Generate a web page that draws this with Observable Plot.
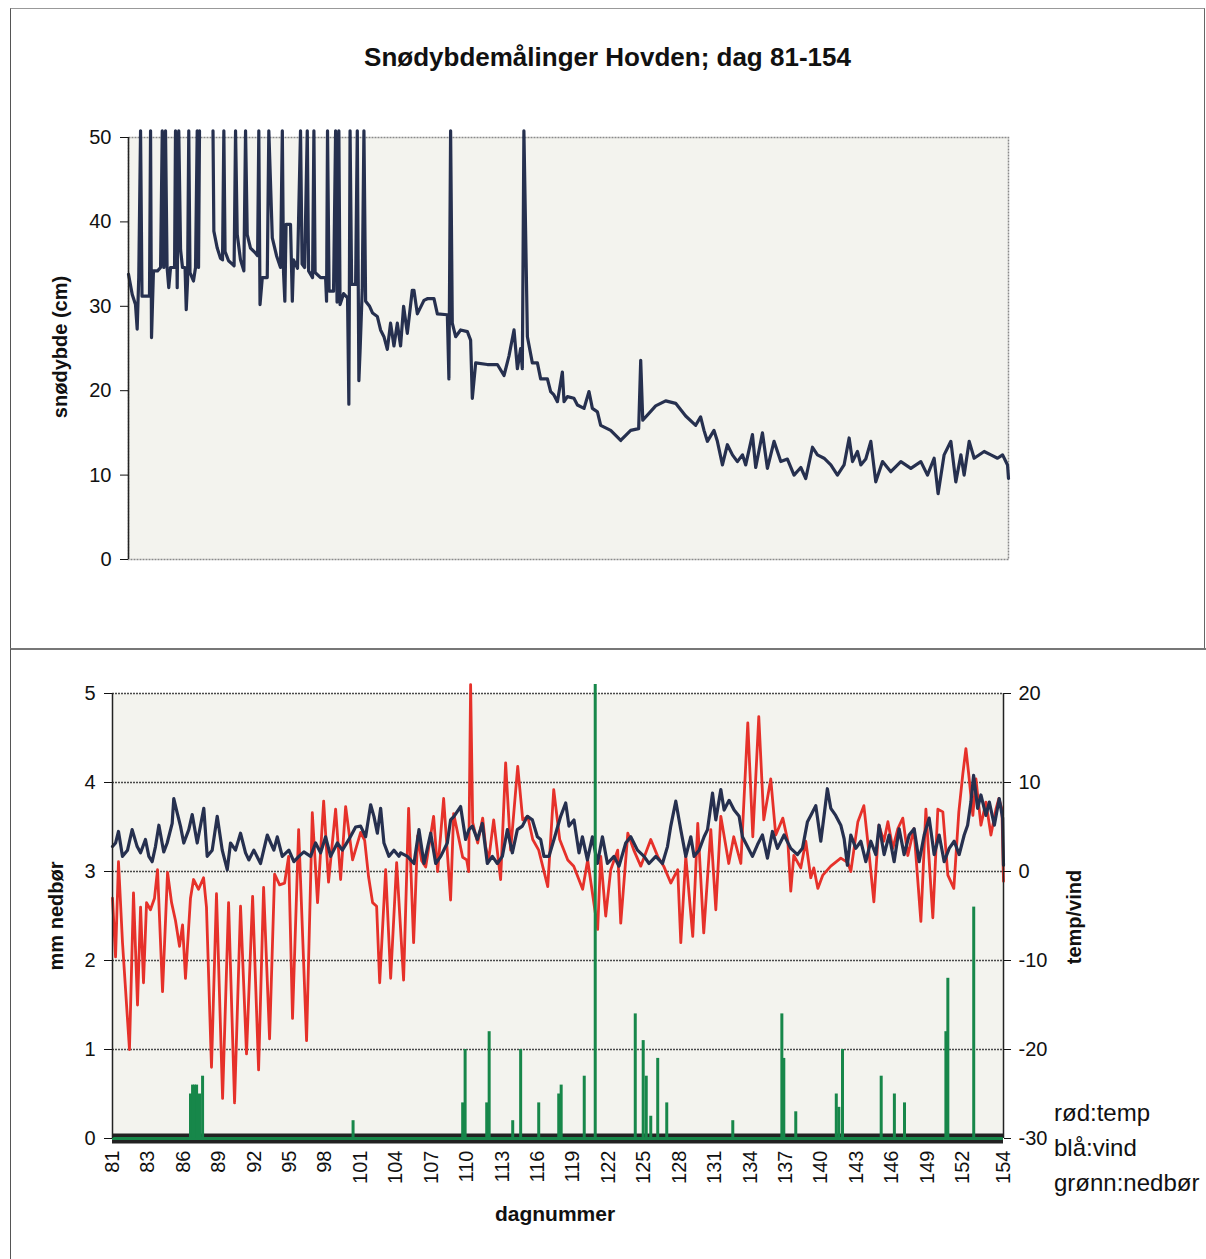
<!DOCTYPE html>
<html>
<head>
<meta charset="utf-8">
<script src="https://cdn.jsdelivr.net/npm/d3@7"></script>
<script src="https://cdn.jsdelivr.net/npm/@observablehq/plot@0.6"></script>
<style>
html, body { margin: 0; padding: 0; background: #fff; width: 1206px; height: 1259px; overflow: hidden; }
body { position: relative; font-family: "Liberation Sans", Arial, sans-serif; color: #111; }
.abs { position: absolute; }
#box1 { left: 10px; top: 8px; width: 1193px; height: 640px; border-top: 1px solid #999; border-left: 1.5px solid #555; border-right: 1.5px solid #666; }
#box2 { left: 10px; top: 648px; width: 1200px; height: 620px; border-top: 2px solid #777; border-left: 1.5px solid #555; }
#title { left: 0; top: 44px; width: 1215px; text-align: center; font-weight: bold; font-size: 26px; line-height: 26px; }
.ylab { font-weight: bold; font-size: 20px; white-space: nowrap; transform: translate(-50%, -50%) rotate(-90deg); line-height: 20px; }
#xlab { font-weight: bold; font-size: 21px; white-space: nowrap; transform: translate(-50%, -50%); line-height: 21px; }
#legend { left: 1054px; top: 1095px; font-size: 24px; line-height: 35px; white-space: nowrap; }
#top { left: 0; top: 80px; }
#bottom { left: 0; top: 648px; }
</style>
</head>
<body>
<div id="box1" class="abs"></div>
<div id="box2" class="abs"></div>
<div id="title" class="abs">Snødybdemålinger Hovden; dag 81-154</div>
<div id="top" class="abs"></div>
<div id="bottom" class="abs"></div>
<div class="abs ylab" style="left:60px; top:347px;">snødybde (cm)</div>
<div class="abs ylab" style="left:56px; top:916px;">mm nedbør</div>
<div class="abs ylab" style="left:1074px; top:917px;">temp/vind</div>
<div id="xlab" class="abs" style="left:555px; top:1213px;">dagnummer</div>
<div id="legend" class="abs">rød:temp<br>blå:vind<br>grønn:nedbør</div>
<script>
// ---------- Top chart: snow depth (cm) ----------
const snowDay = [81.00,81.31,81.58,81.72,81.85,82.00,82.12,82.74,82.83,82.91,
83.07,83.41,83.66,83.80,83.93,84.07,84.20,84.34,84.49,84.82,
84.90,85.04,85.17,85.32,85.48,85.69,85.79,85.90,86.00,86.10,
86.39,86.56,86.70,86.81,86.89,87.40,
88.01,88.08,88.36,88.63,88.80,88.91,89.01,89.30,89.61,89.76,
89.88,90.02,90.29,90.57,90.71,90.85,91.12,91.54,91.71,91.81,
91.91,92.10,92.51,92.64,92.93,93.28,93.61,93.76,93.86,93.97,
94.07,94.44,94.59,94.69,95.02,95.27,95.40,95.61,95.83,95.94,
96.27,96.38,96.48,96.93,97.35,97.43,97.51,97.64,98.01,98.18,
98.30,98.45,98.55,98.84,99.17,99.28,99.38,99.51,99.84,99.98,
100.11,100.21,100.39,100.53,100.67,
101.00,101.25,101.64,
101.91,102.19,102.47,102.74,103.02,103.30,103.57,103.82,104.13,104.54,
104.68,104.96,105.51,105.79,106.34,106.62,107.45,107.58,107.72,107.86,
108.14,108.55,109.11,109.38,109.52,109.80,110.77,111.60,112.15,112.56,
112.98,113.26,113.53,113.67,113.80,114.09,114.50,114.92,115.19,115.75,
116.02,116.29,116.58,116.99,117.13,117.41,117.95,118.24,118.79,119.20,
119.48,119.90,120.17,121.00,121.83,122.66,123.32,123.49,123.66,124.73,
125.56,126.39,127.22,128.05,128.46,128.74,129.02,129.57,129.85,130.27,
130.68,131.10,131.51,131.93,132.20,132.76,133.03,133.59,134.00,134.55,
135.11,135.66,136.21,136.77,137.18,137.74,138.15,138.70,139.26,139.81,
140.36,140.78,141.06,141.47,141.75,142.16,142.58,142.99,143.55,144.24,
145.07,145.90,146.73,147.28,147.83,148.16,148.66,149.22,149.63,150.05,
150.32,150.74,151.15,151.98,152.54,153.09,153.51,153.92,154.00];
const snowDepth = [33.8,31.4,30.2,27.3,33.4,50.8,31.2,31.2,50.8,26.3,
34.2,34.2,34.6,50.8,34.6,50.8,34.6,32.2,34.6,34.6,
50.8,32.2,50.8,36.7,34.6,34.6,29.6,33,50.8,34,
33,34.6,50.8,34.6,50.8,NaN,
50.8,38.9,36.9,35.7,35.5,50.8,36.5,35.4,35,34.8,
50.8,38.5,35.5,34.2,50.8,38.5,36.9,36.3,36,50.8,
30.2,33.4,33.4,50.8,38.1,36,34.6,50.8,34,30.6,
39.7,39.7,30.6,35.5,34.5,50.8,35,34.6,50.8,34.2,
33.4,50.8,34,33.4,33.4,30.6,50.8,31.8,31.8,50.8,
30.5,50.8,30.2,31.5,31,18.4,50.8,32.6,32.6,50.8,
21.2,24.7,32,50.8,30.6,
30,29.2,28.8,
27.2,26.4,24.9,28,25.3,28,25.3,30,26.8,31.9,
31.9,29.1,30.7,30.9,30.9,29.1,29,21.4,50.8,28,
26.4,27.2,27,26,19.1,23.3,23.1,23.1,21.8,24.1,
27.2,22.6,25,22.6,50.8,26.4,23.3,23.3,21.4,21.4,
19.9,19.5,18.7,22.2,18.7,19.3,19.1,18.3,17.9,19.9,
17.9,17.5,15.9,15.3,14.1,15.3,15.5,23.6,16.5,18.2,
18.8,18.5,17,15.9,16.9,15.3,14,15.3,14,11.2,
13.6,12.4,11.6,12.4,11.2,14.8,10.9,15,10.8,14,
11.6,11.9,10,10.9,9.6,13.3,12.4,12,11.2,10,
11.2,14.4,11.6,12.8,11.2,11.9,14,9.2,11.6,10.4,
11.6,10.8,11.6,10,12,7.8,12.4,14,9.2,12.4,
10,14,12,12.8,12.4,12,12.4,11.2,9.6];
const snowTicks = [0, 10, 20, 30, 40, 50];

// ---------- Bottom chart: temperature (°C) ----------
const tempDay = [81.00,81.25,81.49,81.82,82.39,82.72,83.05,83.30,83.54,83.79,
84.11,84.44,84.69,85.10,85.51,85.84,86.16,86.49,86.74,86.98,
87.39,87.64,88.05,88.46,88.70,89.11,89.52,90.02,90.51,91.00,
91.49,91.98,92.48,92.97,93.38,93.87,94.28,94.69,95.10,95.43,
95.75,96.25,96.90,97.37,97.80,98.30,98.70,99.28,99.69,100.10,
100.67,101.33,101.66,101.98,102.31,102.64,102.89,103.38,103.79,104.28,
104.85,105.26,105.67,106.00,106.33,106.66,107.31,107.64,108.13,108.70,
108.95,109.69,110.02,110.18,110.34,110.51,110.92,111.33,111.57,111.82,
112.23,112.80,113.21,113.62,114.20,114.61,115.02,115.43,115.92,116.66,
117.15,117.64,118.30,118.79,119.52,119.93,120.75,121.00,121.41,121.82,
122.39,122.64,123.22,123.71,124.28,125.10,125.67,126.16,126.74,127.31,
127.56,127.97,128.54,128.95,129.44,130.02,130.43,130.84,131.49,131.90,
132.48,133.05,133.46,133.95,134.36,134.93,135.34,135.92,136.33,136.57,
136.82,137.39,137.80,138.21,138.46,138.79,139.20,139.85,140.67,141.25,
141.49,142.07,142.56,142.97,143.38,143.79,144.20,144.53,144.93,145.34,
145.75,146.16,146.66,147.23,147.64,148.21,148.62,149.03,149.44,149.93,
150.34,150.67,150.92,151.16,151.49,151.74,152.15,152.56,152.97,153.38,
153.62,153.87,154.00];
const tempValue = [-3,-9.6,1.1,-8,-20,-2.4,-15,-4,-12.5,-3.5,
-4.3,-3,0.2,-13.5,-0.1,-3.5,-5.5,-8.4,-6,-12,
-3,-0.9,-2,-0.7,-4,-22,-2.5,-25.5,-3.5,-26,
-3.9,-20.5,-2.8,-22.3,-1.8,-18.8,-0.3,-1.5,-1.3,1.7,
-16.5,4.7,-19,6.6,-3.5,7.9,-1.2,7,-0.9,7.3,
1.3,4.4,3.5,-0.6,-3.5,-3.9,-12.5,0.2,-12,1,
-12.2,7.1,-8,4,1.2,0.5,6.2,0,8.2,-3.2,
6.5,1.6,1.3,0,21,5.5,3.2,6,2.8,1.3,
5.8,-0.9,12.2,2.4,11.8,5.8,6.2,3.6,2.4,-1.7,
9.2,3.6,1.3,0.6,-2,1.3,-6.5,1.7,-5,0.2,
2.4,-5.8,4.3,2.4,0.6,3.6,1.7,0.6,-1.3,0.2,
-8,1.7,-7.3,5.4,-6.9,4.7,-4.3,6.2,0.9,3.9,
0.9,16.7,3.9,17.4,5.8,10.4,4.1,6,3.4,-2.2,
1.8,0.4,3.4,-0.7,0.4,-1.9,-0.4,0.6,1.5,1.0,
0,5.6,7.4,2.2,-3.4,5.2,3.4,5.6,2.6,4.8,
6,1.8,4.8,-5.6,7,-5.2,7,6.7,-0.4,-1.9,
6.7,11,13.8,10.8,6.3,10.4,5.2,7.8,4.1,7,
8.2,7,-1.1];

// ---------- Bottom chart: wind (m/s, read on the temp axis) ----------
const windDay = [81.00,81.25,81.49,81.82,82.23,82.61,83.02,83.30,83.70,83.98,
84.25,84.52,84.80,85.20,85.48,85.89,86.02,86.30,86.57,86.84,
87.25,87.53,87.94,88.48,88.76,89.17,89.58,89.99,90.40,90.67,
91.08,91.49,91.90,92.17,92.58,93.13,93.68,94.22,94.50,94.91,
95.45,95.86,96.27,96.68,97.23,97.64,98.05,98.46,98.87,99.42,
99.83,100.37,100.92,101.33,101.74,102.15,102.42,102.70,102.97,103.24,
103.65,104.06,104.47,
104.61,105.16,105.70,106.11,106.52,107.07,107.48,107.89,108.43,108.70,
108.98,109.52,109.93,110.20,110.48,110.89,111.30,111.71,112.12,112.53,
112.94,113.35,113.76,114.17,114.58,114.99,115.40,115.81,116.08,116.35,
116.76,117.17,117.72,118.13,118.40,118.81,119.22,119.50,119.91,120.32,
120.73,121.14,121.55,122.09,122.50,123.05,123.46,124.01,124.55,124.96,
125.51,126.06,126.47,126.74,127.15,127.56,127.97,128.38,128.65,129.06,
129.47,129.75,130.16,130.43,130.84,131.11,131.52,131.93,132.34,132.61,
133.02,133.43,
133.84,134.25,134.66,135.07,135.48,136.02,136.57,137.12,137.53,137.94,
138.21,138.62,139.03,139.30,139.57,139.85,140.25,140.67,140.94,141.21,
141.49,141.90,142.31,142.72,143.13,143.54,143.81,144.22,144.63,145.04,
145.45,145.86,146.27,146.68,147.09,147.50,147.91,148.32,148.73,149.14,
149.55,149.96,150.37,150.78,151.06,151.33,151.55,151.88,152.15,152.56,
152.84,153.25,153.65,153.93,154.00];
const windValue = [2.8,3.2,4.5,1.7,2.4,4.7,2.8,2.1,3.6,1.7,
1.1,2.8,5.2,2.2,3.2,5.4,8.2,6.6,5.1,3.2,
4.7,6.4,3.2,7.1,1.7,2.4,6.2,2.4,0.2,3.2,
2.4,4.3,2.1,1.3,2.4,0.9,4.1,2.4,3.9,1.7,
2.4,1.1,1.7,2.2,1.7,3.2,2.1,3.9,1.7,3.2,
2.4,3.6,5.0,5.1,3.9,7.5,6.2,4.3,7.1,3.2,
1.7,2.4,1.7,
2.1,1.7,0.9,4.7,0.9,4.3,0.9,1.7,3.2,5.8,
6.2,7.3,3.6,4.7,5.1,3.6,5.4,0.9,1.7,0.9,
1.7,4.7,2.1,4.7,5.1,6.2,5.8,3.9,3.6,1.7,
1.7,3.6,6.2,7.7,5.1,5.8,2.1,3.9,1.3,3.9,
0.9,3.9,0.9,1.7,0.6,3.2,3.9,2.4,1.7,0.9,
1.7,0.9,2.8,5.1,7.9,4.7,1.7,3.9,1.7,2.4,
3.9,4.7,8.8,5.8,9.2,6.9,8,6.9,6.2,3.9,
2.8,1.7,
3.0,4.1,1.5,4.5,2.6,4.1,2.6,1.9,2.6,5.6,
6.3,7.4,3.4,6.3,9.3,7.1,6.3,5.2,3.7,0.7,
4.1,2.6,3.4,1.1,3.4,1.9,5.2,1.9,4.1,1.1,
4.8,1.9,4.1,4.8,1.1,4.1,6,1.9,4.1,1.1,
2.6,3.4,1.9,4.1,5.2,7.8,10.8,7.1,8.6,6.3,
7.8,5.2,8.2,6.0,0.7];

// ---------- Bottom chart: precipitation (mm) ----------
const precipDay = [87.39,87.56,87.72,87.89,88.13,88.38,100.71,109.69,109.89,111.66,
111.86,113.79,114.44,115.92,117.56,117.76,119.65,120.55,123.83,124.48,
124.73,125.10,125.67,126.41,131.82,135.84,136.00,136.98,140.30,140.51,
140.81,143.98,145.06,145.89,149.28,149.44,151.56];
const precipMm = [0.5,0.6,0.6,0.6,0.5,0.7,0.2,0.4,1.0,0.4,
1.2,0.2,1.0,0.4,0.5,0.6,0.7,5.1,1.4,1.1,
0.7,0.25,0.9,0.4,0.2,1.4,0.9,0.3,0.5,0.35,
1.0,0.7,0.5,0.4,1.2,1.8,2.6];

// ---------- Axis ticks ----------
const mmTicks = [0, 1, 2, 3, 4, 5];
const tempTicks = [-30, -20, -10, 0, 10, 20];
const xTickAt = [81,83.9,86.8,89.71,92.61,95.51,98.41,101.31,104.22,107.12,
110.02,112.92,115.82,118.73,121.63,124.53,127.43,130.33,133.24,136.14,
139.04,141.94,144.84,147.75,150.65,154];
const xTickLabel = [81,83,86,89,92,95,98,101,104,107,110,113,116,119,122,125,128,131,134,137,140,143,146,149,152,154];

// ---------- build rows ----------
const snowRows = snowDay.map((d, i) => ({day: d, depth: snowDepth[i]}));
const tempRows = tempDay.map((d, i) => ({day: d, v: tempValue[i]}));
const windRows = windDay.map((d, i) => ({day: d, v: windValue[i]}));
const precipRows = precipDay.map((d, i) => ({day: d, mm: precipMm[i]}));
const mmToAxis = m => m * 10 - 30; // left mm axis 0..5 sits on right axis -30..20
const labelMap = new Map(xTickAt.map((p, i) => [p, String(xTickLabel[i])]));

const bg = "#f3f3ee";
const navy = "#26304f";
const red = "#e6312a";
const green = "#17874a";
const font = "'Liberation Sans', Arial, sans-serif";

const topChart = Plot.plot({
  width: 1206, height: 568,
  marginLeft: 128, marginRight: 198, marginTop: 57, marginBottom: 89,
  x: {domain: [81, 154], axis: null},
  y: {domain: [0, 50], axis: null},
  style: {fontFamily: font, fontSize: "20px", color: "#111", background: "transparent", overflow: "visible"},
  marks: [
    Plot.frame({fill: bg, stroke: "#8a8a8a", strokeDasharray: "2,1", strokeWidth: 1.5}),
    Plot.line(snowRows, {x: "day", y: "depth", stroke: navy, strokeWidth: 3.2}),
    Plot.ruleX([81], {stroke: "#222", strokeWidth: 1.5}),
    Plot.axisY({ticks: snowTicks, tickSize: 8, tickPadding: 9, label: null, tickFormat: d => String(d)})
  ]
});
document.getElementById("top").appendChild(topChart);

const bottomChart = Plot.plot({
  width: 1206, height: 611,
  marginLeft: 112, marginRight: 203, marginTop: 45, marginBottom: 121,
  x: {domain: [81, 154], axis: null},
  y: {domain: [-30, 20], axis: null},
  style: {fontFamily: font, fontSize: "20px", color: "#111", background: "transparent", overflow: "visible"},
  marks: [
    Plot.frame({fill: bg, stroke: null}),
    Plot.ruleY(tempTicks.filter(t => t > -30), {stroke: "#4a4a4a", strokeWidth: 1.3, strokeDasharray: "2,1"}),
    Plot.line(tempRows, {x: "day", y: "v", stroke: red, strokeWidth: 2.8}),
    Plot.line(windRows, {x: "day", y: "v", stroke: navy, strokeWidth: 3.2}),
    Plot.ruleY([-30], {stroke: "#222", strokeWidth: 10}),
    Plot.ruleY([-30], {stroke: green, strokeWidth: 3}),
    Plot.ruleX(precipRows, {x: "day", y1: -30, y2: d => mmToAxis(d.mm), stroke: green, strokeWidth: 3}),
    Plot.ruleX([81], {stroke: "#222", strokeWidth: 1.5}),
    Plot.ruleX([154], {stroke: "#222", strokeWidth: 1.5}),
    Plot.axisY({anchor: "left", ticks: mmTicks.map(mmToAxis), tickFormat: t => String((t + 30) / 10), tickSize: 8, tickPadding: 9, label: null}),
    Plot.axisY({anchor: "right", ticks: tempTicks, tickFormat: t => String(t), tickSize: 7, tickPadding: 8, label: null}),
    Plot.axisX({ticks: xTickAt, tickFormat: d => labelMap.get(d), tickRotate: -90, tickSize: 0, tickPadding: 12, label: null})
  ]
});
document.getElementById("bottom").appendChild(bottomChart);
</script>
</body>
</html>
